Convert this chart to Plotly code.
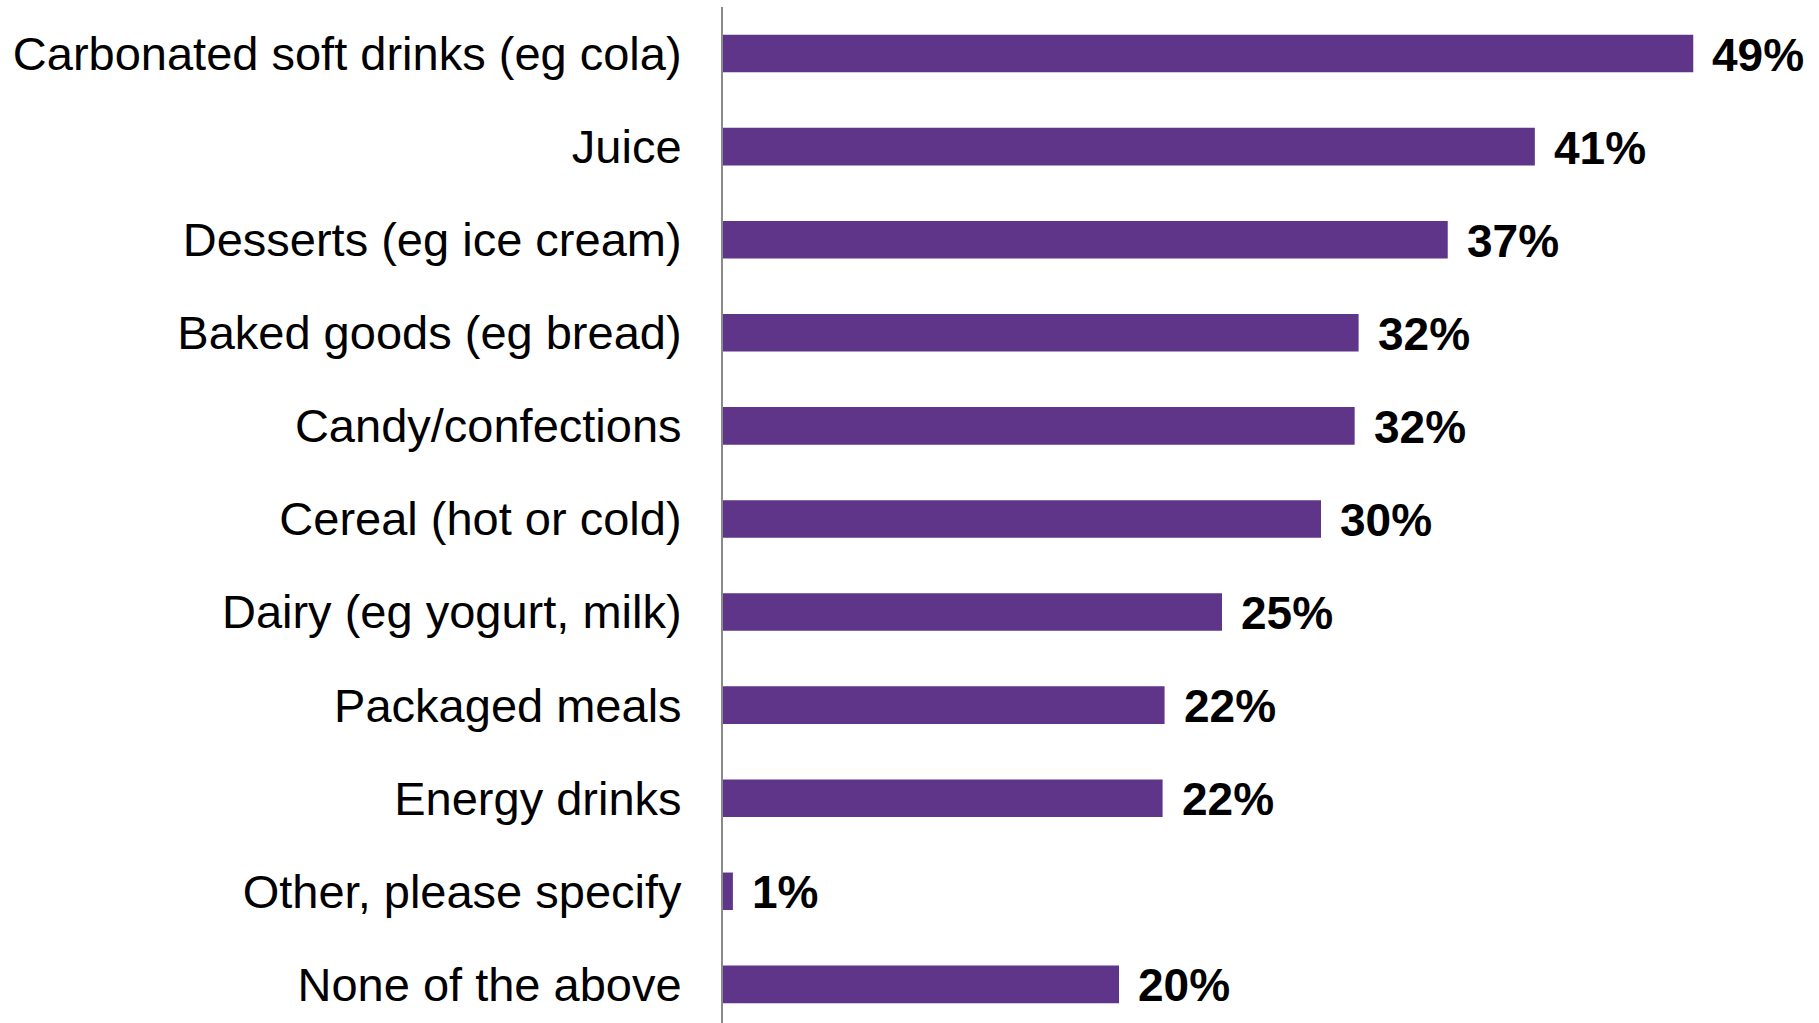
import plotly.graph_objects as go

categories = [
    "Carbonated soft drinks (eg cola)",
    "Juice",
    "Desserts (eg ice cream)",
    "Baked goods (eg bread)",
    "Candy/confections",
    "Cereal (hot or cold)",
    "Dairy (eg yogurt, milk)",
    "Packaged meals",
    "Energy drinks",
    "Other, please specify",
    "None of the above",
]
values = [49.0, 41.0, 36.6, 32.1, 31.9, 30.2, 25.2, 22.3, 22.2, 0.5, 20.0]
labels = ["49%", "41%", "37%", "32%", "32%", "30%", "25%", "22%", "22%", "1%", "20%"]

BAR_COLOR = "#5E3589"
FONT = "Liberation Sans, Arial, sans-serif"

fig = go.Figure(
    go.Bar(
        y=categories,
        x=values,
        orientation="h",
        marker=dict(color=BAR_COLOR, line=dict(width=0)),
        hoverinfo="skip",
    )
)

for c, v, t in zip(categories, values, labels):
    fig.add_annotation(
        x=v, y=c, text="<b>" + t + "</b>", showarrow=False,
        xanchor="left", yanchor="middle", xshift=17, yshift=-1,
        font=dict(family=FONT, size=46, color="#000000"),
    )

fig.update_layout(
    width=1819,
    height=1023,
    margin=dict(l=723, r=0, t=7, b=0, pad=0),
    paper_bgcolor="white",
    plot_bgcolor="white",
    bargap=0.597,
    showlegend=False,
    xaxis=dict(
        range=[0, 55.35],
        visible=False,
        showgrid=False,
        zeroline=False,
    ),
    yaxis=dict(
        type="category",
        categoryorder="array",
        categoryarray=categories,
        range=[10.415, -0.5],
        showgrid=False,
        zeroline=False,
        showline=True,
        linecolor="#8a8a8a",
        linewidth=2,
        ticks="",
        ticklabelstandoff=30,
        tickfont=dict(family=FONT, size=47, color="#000000"),
    ),
)

fig.write_html("out.html", config={"displayModeBar": False})

# remove the browser's default body margin so the figure sits at the page origin
with open("out.html", "r", encoding="utf-8") as f:
    html = f.read()
html = html.replace(
    "<head>",
    "<head><style>html,body{margin:0;padding:0;overflow:hidden;}</style>",
    1,
)
with open("out.html", "w", encoding="utf-8") as f:
    f.write(html)
